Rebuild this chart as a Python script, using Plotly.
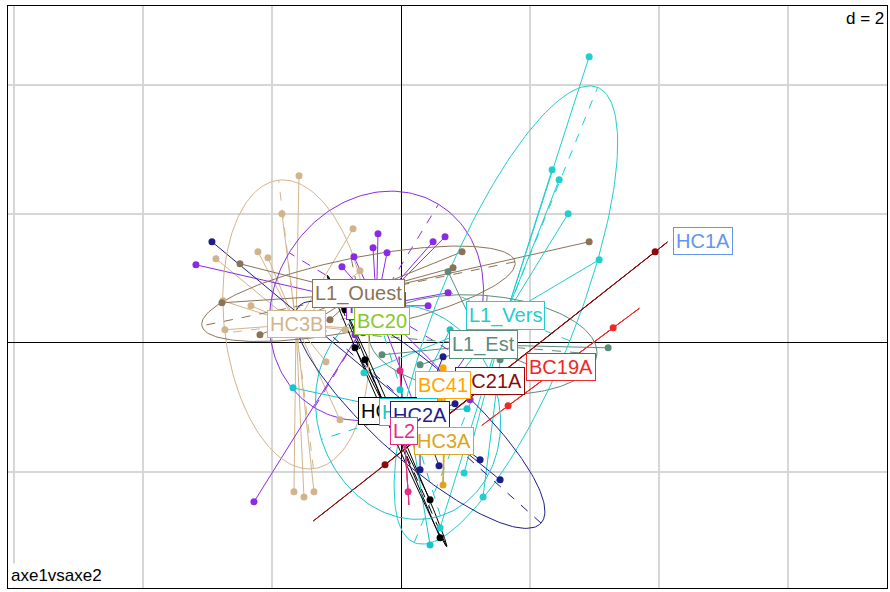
import numpy as np
import plotly.graph_objects as go

# ---------------- data (factorial coordinates, axis 1 vs axis 2) ----------------
classes = ["HC3B", "HC3C", "BC20", "L1_Ouest", "L1_Est", "L1_Vers", "BC19A", "BC21A",
           "BC41", "HC2B", "HC1B", "HC2A", "HC3A", "L2", "HC1A"]

colors = {
    "HC3B": "#D2B48C", "HC3C": "#8A2BE2", "BC20": "#86C926", "L1_Ouest": "#8B7355",
    "L1_Est": "#5B8C7A", "L1_Vers": "#1FCECE", "BC19A": "#F02828", "BC21A": "#8B0A0A",
    "BC41": "#FFA500", "HC2B": "#000000", "HC1B": "#18C4CC", "HC2A": "#1C1C8C",
    "HC3A": "#DAA520", "L2": "#E52E89", "HC1A": "#6495ED",
}

HC3B_x = [-1.581, -1.845, -2.217, -2.062, -2.868, -0.744, -0.636, -2.760, -2.326, -1.163, -1.659, -1.504, -1.349, -0.868, -0.946, -2.729, -0.403]
HC3B_y = [2.589, 2.000, 1.411, 1.318, 1.302, 1.767, 1.116, 0.651, 0.574, -0.295, -2.310, -2.388, -2.310, 0.202, -1.194, 0.202, 0.202]

HC3C_x = [-3.178, -0.357, -0.217, -0.434, -0.729, -0.915, 0.496, 0.682, 0.419, 0.729, -0.713, -0.589, -2.279, 0.295, 1.070]
HC3C_y = [1.209, 1.690, 1.395, 1.473, 1.333, 1.178, 1.566, 1.643, 0.574, 0.775, 0.124, 0.155, -2.465, -1.194, -0.884]

BC20_x = [-0.403, -0.140, -0.326]
BC20_y = [0.388, 0.264, 0.341]

L1_Ouest_x = [2.915, 0.946, 0.806, -2.496, -2.775, -1.566, -1.101, -2.186, -0.682, -0.326, -0.791]
L1_Ouest_y = [1.566, 1.411, 1.163, 1.225, 0.620, 0.202, 0.357, 0.124, 0.202, 0.667, 0.822]

L1_Est_x = [3.209, 0.729, -0.295, 2.155, 1.535, 0.295]
L1_Est_y = [-0.078, 1.101, -0.186, -0.419, -0.264, -0.341]

L1_Vers_x = [2.915, 2.341, 2.450, 2.589, 3.070, 1.271, 0.977, 0.605, -0.574, 0.605]
L1_Vers_y = [4.434, 2.682, 2.527, 2.000, 1.287, -2.388, -2.016, -2.868, -0.465, -0.884]

BC19A_x = [3.287, 1.659]
BC19A_y = [0.233, -0.977]

BC21A_x = [3.938, -0.248, 0.465]
BC21A_y = [1.411, -1.891, -1.318]

BC41_x = [0.651, 0.605, 0.698]
BC41_y = [-0.388, -0.853, -0.729]

HC2B_x = [-0.713, 0.605, -0.868, -0.558, 0.450]
HC2B_y = [-0.078, -3.023, 0.512, -0.264, -2.434]

HC1B_x = [-1.674, 1.023, 0.450, 0.760, -0.016]
HC1B_y = [-0.698, -1.023, -3.132, 0.202, -0.729]

HC2A_x = [-2.930, 0.651, 0.837, 0.589, 1.225, 1.535, 0.295, 0.140]
HC2A_y = [1.566, -0.217, -0.946, -1.907, -1.814, -2.124, -1.969, -1.504]

HC3A_x = [0.651, 0.667, 0.682]
HC3A_y = [-2.202, -1.194, -1.163]

L2_x = [-0.016, 0.109, 0.047]
L2_y = [-0.434, -2.310, -1.349]

HC1A_x = [4.682]
HC1A_y = [1.581]

data = {
    "HC3B": (HC3B_x, HC3B_y), "HC3C": (HC3C_x, HC3C_y), "BC20": (BC20_x, BC20_y),
    "L1_Ouest": (L1_Ouest_x, L1_Ouest_y), "L1_Est": (L1_Est_x, L1_Est_y),
    "L1_Vers": (L1_Vers_x, L1_Vers_y), "BC19A": (BC19A_x, BC19A_y),
    "BC21A": (BC21A_x, BC21A_y), "BC41": (BC41_x, BC41_y), "HC2B": (HC2B_x, HC2B_y),
    "HC1B": (HC1B_x, HC1B_y), "HC2A": (HC2A_x, HC2A_y), "HC3A": (HC3A_x, HC3A_y),
    "L2": (L2_x, L2_y), "HC1A": (HC1A_x, HC1A_y),
}

X_RANGE = [-6.09, 7.53]
Y_RANGE = [-3.80, 5.22]
GRID_D = 2
CELLIPSE = 1.5
FONT = "Liberation Sans, Arial, sans-serif"

fig = go.Figure()

centroids = {}
for c in classes:
    x = np.asarray(data[c][0], float)
    y = np.asarray(data[c][1], float)
    centroids[c] = (x.mean(), y.mean())

# stars
for c in classes:
    x, y = data[c]
    cx, cy = centroids[c]
    sx, sy = [], []
    for xi, yi in zip(x, y):
        sx += [xi, cx, None]
        sy += [yi, cy, None]
    fig.add_trace(go.Scatter(x=sx, y=sy, mode="lines",
                             line=dict(color=colors[c], width=1), hoverinfo="skip"))

# ellipses with dashed axes
t = np.linspace(0, 2 * np.pi, 200)
for c in classes:
    x = np.asarray(data[c][0], float)
    y = np.asarray(data[c][1], float)
    if len(x) < 2:
        continue
    cx, cy = centroids[c]
    cov = np.cov(np.vstack([x, y]), bias=True)
    vals, vecs = np.linalg.eigh(cov)
    vals = np.clip(vals, 0, None)
    a = CELLIPSE * np.sqrt(vals[1])
    b = CELLIPSE * np.sqrt(vals[0])
    v1 = vecs[:, 1]
    v2 = vecs[:, 0]
    ex = cx + a * np.cos(t) * v1[0] + b * np.sin(t) * v2[0]
    ey = cy + a * np.cos(t) * v1[1] + b * np.sin(t) * v2[1]
    fig.add_trace(go.Scatter(x=ex, y=ey, mode="lines",
                             line=dict(color=colors[c], width=1), hoverinfo="skip"))
    axx = [cx - a * v1[0], cx + a * v1[0], None, cx - b * v2[0], cx + b * v2[0]]
    axy = [cy - a * v1[1], cy + a * v1[1], None, cy - b * v2[1], cy + b * v2[1]]
    fig.add_trace(go.Scatter(x=axx, y=axy, mode="lines",
                             line=dict(color=colors[c], width=1, dash="dash"), hoverinfo="skip"))

# points
for c in classes:
    x, y = data[c]
    fig.add_trace(go.Scatter(x=x, y=y, mode="markers",
                             marker=dict(color=colors[c], size=7, line=dict(width=0)),
                             hoverinfo="skip"))

annotations = []
for c in classes:
    cx, cy = centroids[c]
    annotations.append(dict(x=cx, y=cy, xref="x", yref="y", text=c, showarrow=False,
                            font=dict(family=FONT, size=20, color=colors[c]),
                            bgcolor="white", bordercolor=colors[c], borderwidth=1,
                            borderpad=2, xanchor="center", yanchor="middle"))

annotations.append(dict(x=1, y=1, xref="paper", yref="paper", text="d = 2", showarrow=False,
                        xanchor="right", yanchor="top", bgcolor="white", borderpad=2,
                        font=dict(family=FONT, size=17, color="black")))
annotations.append(dict(x=0, y=0, xref="paper", yref="paper", text="axe1vsaxe2", showarrow=False,
                        xanchor="left", yanchor="bottom", bgcolor="white", borderpad=2,
                        font=dict(family=FONT, size=17, color="black")))

axis_common = dict(showticklabels=False, ticks="", dtick=GRID_D, tick0=0,
                   showgrid=True, gridcolor="#D6D6D6", gridwidth=1.5,
                   zeroline=True, zerolinecolor="black", zerolinewidth=1.2,
                   showline=True, mirror=True, linecolor="black", linewidth=1)

fig.update_layout(
    width=890, height=592,
    margin=dict(l=8, r=3, t=6, b=4),
    paper_bgcolor="white", plot_bgcolor="white",
    showlegend=False,
    xaxis=dict(range=X_RANGE, **axis_common),
    yaxis=dict(range=Y_RANGE, **axis_common),
    annotations=annotations,
)

fig.write_html("out.html", config={"displayModeBar": False},
               post_script="document.body.style.margin='0';document.body.style.overflow='hidden';")
